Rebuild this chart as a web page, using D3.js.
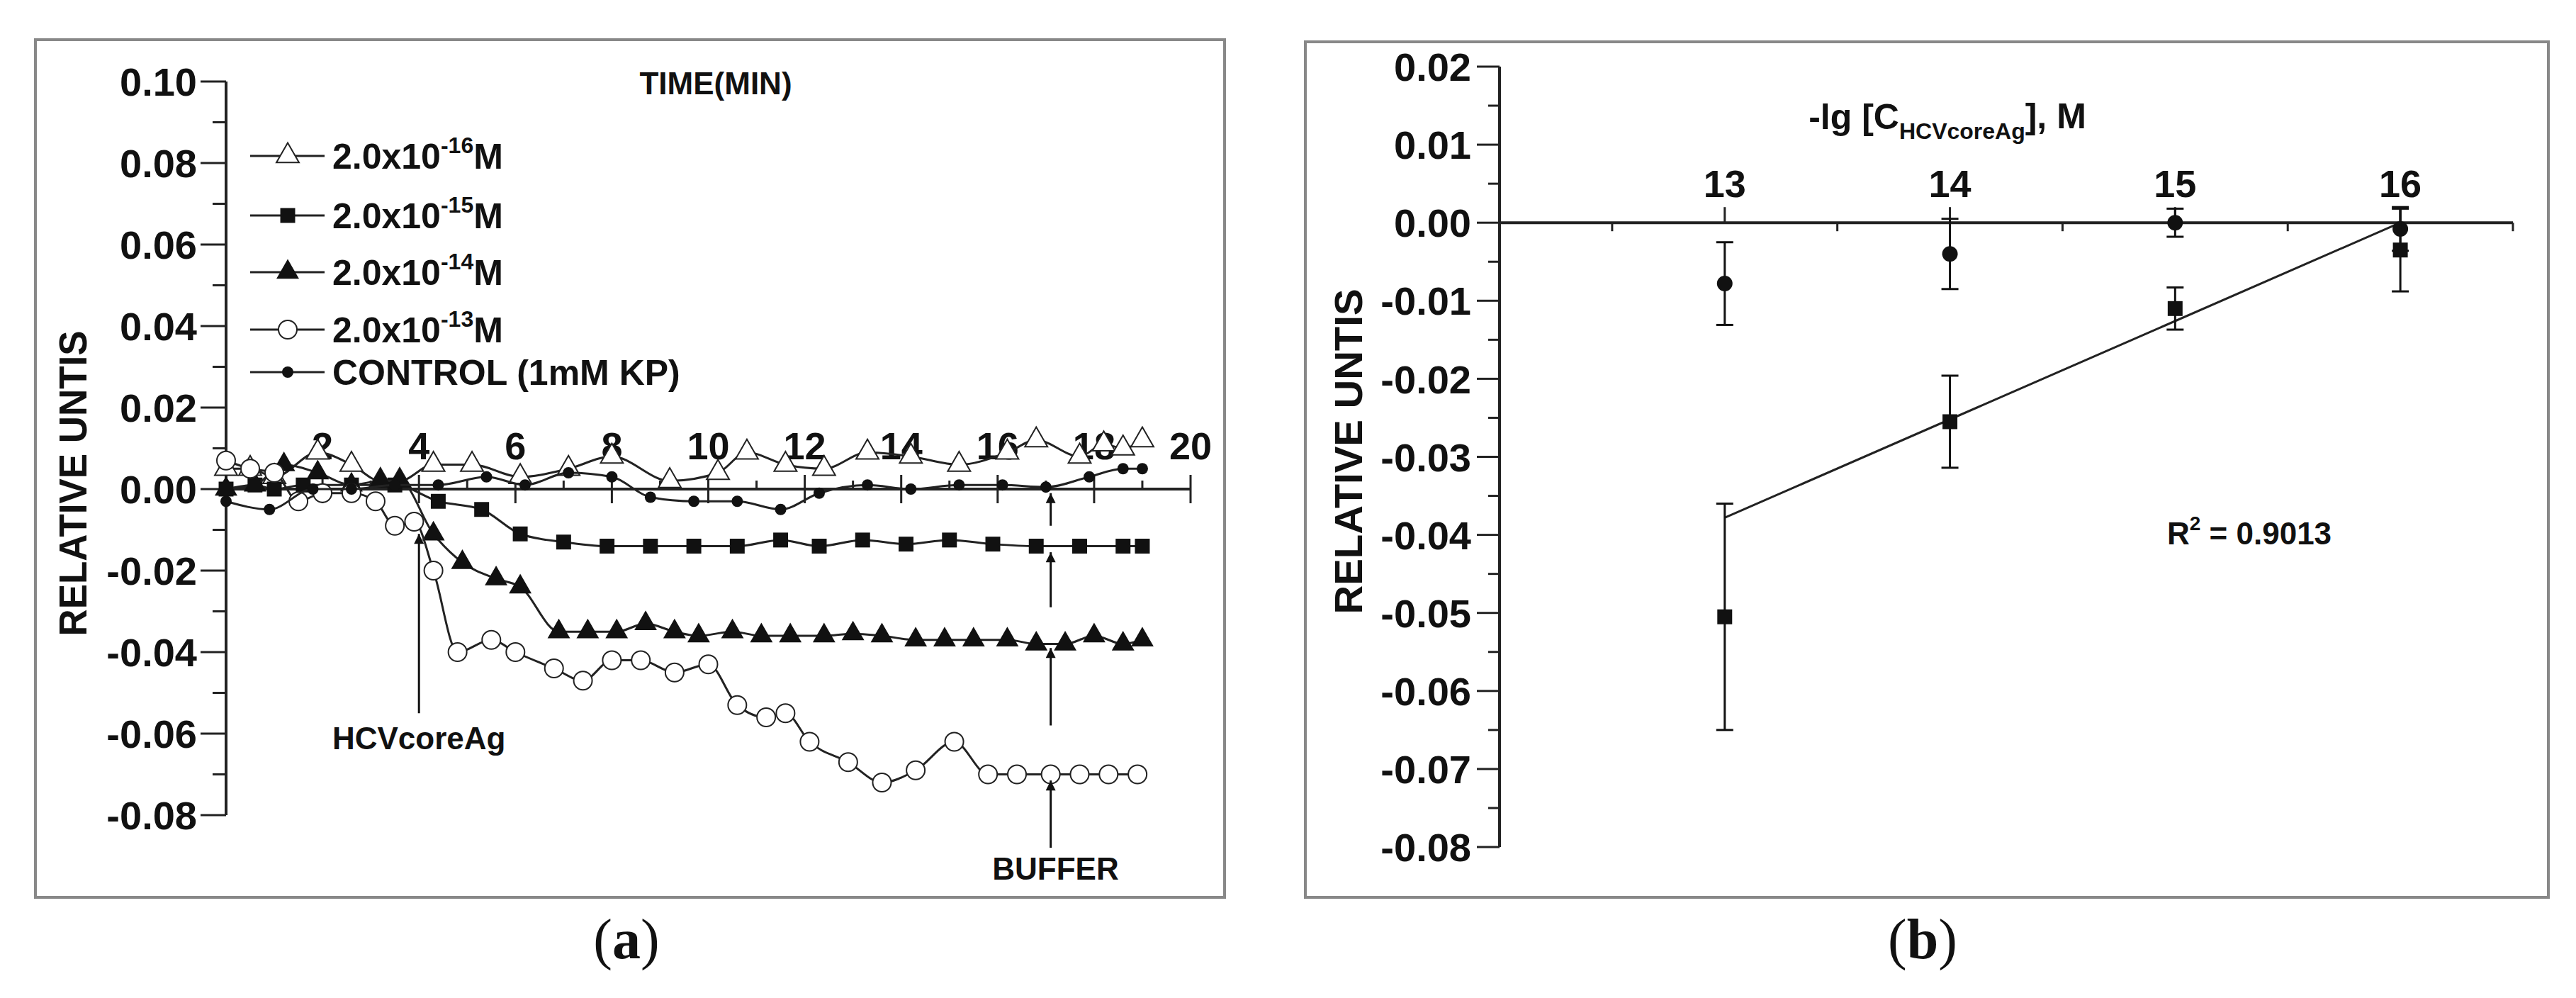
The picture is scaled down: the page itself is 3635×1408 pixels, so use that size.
<!DOCTYPE html>
<html>
<head>
<meta charset="utf-8">
<script src="https://cdn.jsdelivr.net/npm/d3@7"></script>
<style>
  body { margin: 0; background: #fff; }
  text { font-family: "Liberation Sans", Arial, sans-serif; font-weight: bold; fill: #111; }
</style>
</head>
<body>
<svg id="chart" width="3635" height="1408"></svg>
<script>
// ---------- data: panel (a), time in min vs relative units ----------
const c16 = [[0,0.005],[0.5,0.005],[1,0.003],[1.9,0.009],[2.6,0.006],[3.2,0.002],[3.6,0.002],[4.3,0.006],[5.1,0.006],[6.1,0.003],[7.1,0.005],[8,0.008],[9.2,0.002],[10.2,0.004],[10.8,0.009],[11.6,0.006],[12.4,0.005],[13.3,0.009],[14.2,0.008],[15.2,0.006],[16.2,0.009],[16.8,0.012],[17.7,0.008],[18.2,0.011],[18.6,0.010],[19,0.012]];
const c15 = [[0,0],[0.6,0.001],[1,0],[1.6,0.001],[2.6,0.001],[3.5,0.001],[4.4,-0.003],[5.3,-0.005],[6.1,-0.011],[7,-0.013],[7.9,-0.014],[8.8,-0.014],[9.7,-0.014],[10.6,-0.014],[11.5,-0.0125],[12.3,-0.014],[13.2,-0.0125],[14.1,-0.0135],[15,-0.0125],[15.9,-0.0135],[16.8,-0.014],[17.7,-0.014],[18.6,-0.014],[19,-0.014]];
const c14 = [[0,0],[0.6,0.001],[1.2,0.006],[1.9,0.004],[2.6,0.001],[3.2,0.002],[3.6,0.002],[4.3,-0.011],[4.9,-0.018],[5.6,-0.022],[6.1,-0.024],[6.9,-0.035],[7.5,-0.035],[8.1,-0.035],[8.7,-0.033],[9.3,-0.035],[9.8,-0.036],[10.5,-0.035],[11.1,-0.036],[11.7,-0.036],[12.4,-0.036],[13,-0.0355],[13.6,-0.036],[14.3,-0.037],[14.9,-0.037],[15.5,-0.037],[16.2,-0.037],[16.8,-0.038],[17.4,-0.038],[18,-0.036],[18.6,-0.038],[19,-0.037]];
const c13 = [[0,0.007],[0.5,0.005],[1,0.004],[1.5,-0.003],[2,-0.001],[2.6,-0.001],[3.1,-0.003],[3.5,-0.009],[3.9,-0.008],[4.3,-0.02],[4.8,-0.04],[5.5,-0.037],[6,-0.04],[6.8,-0.044],[7.4,-0.047],[8,-0.042],[8.6,-0.042],[9.3,-0.045],[10,-0.043],[10.6,-0.053],[11.2,-0.056],[11.6,-0.055],[12.1,-0.062],[12.9,-0.067],[13.6,-0.072],[14.3,-0.069],[15.1,-0.062],[15.8,-0.07],[16.4,-0.07],[17.1,-0.07],[17.7,-0.07],[18.3,-0.07],[18.9,-0.07]];
const control = [[0,-0.003],[0.9,-0.005],[1.8,0],[2.6,0],[3.5,0.001],[4.4,0.001],[5.4,0.003],[6.2,0.001],[7.1,0.004],[8,0.003],[8.8,-0.002],[9.7,-0.003],[10.6,-0.003],[11.5,-0.005],[12.3,-0.001],[13.3,0.001],[14.2,0],[15.2,0.001],[16.1,0.001],[17,0.0005],[17.9,0.003],[18.6,0.005],[19,0.005]];
const legendLabels = [["2.0x10","-16","M"],["2.0x10","-15","M"],["2.0x10","-14","M"],["2.0x10","-13","M"],["CONTROL (1mM KP)","",""]];
const yTicksA = [0.10,0.08,0.06,0.04,0.02,0.00,-0.02,-0.04,-0.06,-0.08];
const xTicksA = [2,4,6,8,10,12,14,16,18,20];
// arrows: [x, tail y, tip y]
const hcvArrow = [4, -0.055, -0.011];
const bufferArrows = [[17.1,-0.009,-0.001],[17.1,-0.029,-0.0155],[17.1,-0.058,-0.039],[17.1,-0.088,-0.0715]];

// ---------- data: panel (b) ----------
const concB = [13,14,15,16];
const circleB = [-0.0078,-0.004,0.0,-0.0008];
const circleErr = [0.0053,0.0045,0.0018,0.0028];
const squareB = [-0.0505,-0.0255,-0.011,-0.0035];
const squareErr = [0.0145,0.0059,0.0027,0.0053];
const fitX = [13,16];
const fitY = [-0.0378,0.0];
const yTicksB = [0.02,0.01,0.00,-0.01,-0.02,-0.03,-0.04,-0.05,-0.06,-0.07,-0.08];
const xTicksB = [13,14,15,16];

const svg = d3.select("#chart");

// frames
svg.append("rect").attr("x",50).attr("y",56).attr("width",1678).attr("height",1210)
  .attr("fill","none").attr("stroke","#888").attr("stroke-width",4);
svg.append("rect").attr("x",1842).attr("y",59).attr("width",1754).attr("height",1207)
  .attr("fill","none").attr("stroke","#888").attr("stroke-width",4);

// ================= panel (a) =================
const xA = d3.scaleLinear().domain([0,20]).range([319,1680]);
const yA = d3.scaleLinear().domain([-0.08,0.10]).range([1150,115]);
const gA = svg.append("g");

// y axis
gA.append("line").attr("x1",319).attr("x2",319).attr("y1",yA(0.10)).attr("y2",yA(-0.08))
  .attr("stroke","#222").attr("stroke-width",4);
d3.range(-0.08,0.1001,0.01).forEach((v,i) => {
  const major = i % 2 === 0;
  gA.append("line").attr("x1",319).attr("x2",major ? 283 : 300)
    .attr("y1",yA(v)).attr("y2",yA(v)).attr("stroke","#222").attr("stroke-width",3);
});
yTicksA.forEach(v => {
  gA.append("text").attr("x",278).attr("y",yA(v)).attr("dy","0.36em")
    .attr("text-anchor","end").style("font-size","56px").text(v.toFixed(2));
});

// x axis along zero
gA.append("line").attr("x1",xA(0)).attr("x2",xA(20)).attr("y1",yA(0)).attr("y2",yA(0))
  .attr("stroke","#222").attr("stroke-width",4);
d3.range(1,21).forEach(v => {
  const major = v % 2 === 0;
  gA.append("line").attr("x1",xA(v)).attr("x2",xA(v))
    .attr("y1",yA(0) - (major ? 20 : 12)).attr("y2",yA(0) + (major ? 20 : 0))
    .attr("stroke","#222").attr("stroke-width",3);
});
xTicksA.forEach(v => {
  gA.append("text").attr("x",xA(v)).attr("y",648).attr("text-anchor","middle")
    .style("font-size","54px").text(v);
});
gA.append("text").attr("x",1010).attr("y",133).attr("text-anchor","middle")
  .style("font-size","44px").text("TIME(MIN)");
gA.append("text").attr("transform","translate(122,682) rotate(-90)")
  .attr("text-anchor","middle").style("font-size","56px")
  .attr("textLength",431).attr("lengthAdjust","spacingAndGlyphs").text("RELATIVE UNTIS");

const lineA = d3.line().x(d => xA(d[0])).y(d => yA(d[1])).curve(d3.curveMonotoneX);

const tri = d3.symbol().type(d3.symbolTriangle).size(440);
const sq = d3.symbol().type(d3.symbolSquare).size(440);

function marker(g, kind, x, y) {
  if (kind === "otri") g.append("path").attr("d",tri()).attr("transform",`translate(${x},${y})`).attr("fill","#fff").attr("stroke","#222").attr("stroke-width",2);
  if (kind === "tri") g.append("path").attr("d",tri()).attr("transform",`translate(${x},${y})`).attr("fill","#111");
  if (kind === "sq") g.append("path").attr("d",sq()).attr("transform",`translate(${x},${y})`).attr("fill","#111");
  if (kind === "ocirc") g.append("circle").attr("cx",x).attr("cy",y).attr("r",13).attr("fill","#fff").attr("stroke","#222").attr("stroke-width",2);
  if (kind === "dot") g.append("circle").attr("cx",x).attr("cy",y).attr("r",8).attr("fill","#111");
}

const seriesA = [[c16,"otri"],[c15,"sq"],[c14,"tri"],[c13,"ocirc"],[control,"dot"]];
seriesA.forEach(([data, kind]) => {
  gA.append("path").datum(data).attr("d",lineA).attr("fill","none")
    .attr("stroke","#222").attr("stroke-width",3);
  data.forEach(d => marker(gA, kind, xA(d[0]), yA(d[1])));
});

// legend
const legendY = [220,304,384,465,525];
legendLabels.forEach((lab,i) => {
  gA.append("line").attr("x1",353).attr("x2",458).attr("y1",legendY[i]).attr("y2",legendY[i])
    .attr("stroke","#222").attr("stroke-width",3);
  marker(gA, seriesA[i][1], 406, legendY[i]);
  const t = gA.append("text").attr("x",469).attr("y",legendY[i]).attr("dy","0.36em").style("font-size","50px");
  t.append("tspan").text(lab[0]);
  if (lab[1]) {
    t.append("tspan").attr("dy","-0.7em").style("font-size","32px").text(lab[1]);
    t.append("tspan").attr("dy","0.45em").text(lab[2]);
  }
});

// arrows
svg.append("defs").append("marker").attr("id","ah").attr("viewBox","0 0 10 10")
  .attr("refX",10).attr("refY",5)
  .attr("markerUnits","userSpaceOnUse").attr("orient","auto")
  .attr("markerWidth",34).attr("markerHeight",14)
  .append("path").attr("d","M0,0 L10,5 L0,10 Z").attr("fill","#111");
[hcvArrow].concat(bufferArrows).forEach(a => {
  gA.append("line").attr("x1",xA(a[0])).attr("x2",xA(a[0])).attr("y1",yA(a[1])).attr("y2",yA(a[2]))
    .attr("stroke","#111").attr("stroke-width",3).attr("marker-end","url(#ah)");
});
gA.append("text").attr("x",xA(4)).attr("y",yA(-0.061)).attr("dy","0.36em").attr("text-anchor","middle")
  .style("font-size","44px").text("HCVcoreAg");
gA.append("text").attr("x",xA(17.2)).attr("y",yA(-0.093)).attr("dy","0.36em").attr("text-anchor","middle")
  .style("font-size","44px").text("BUFFER");

// ================= panel (b) =================
const xB = d3.scaleLinear().domain([12,16.5]).range([2116,3546]);
const yB = d3.scaleLinear().domain([-0.08,0.02]).range([1195,94]);
const gB = svg.append("g");

gB.append("line").attr("x1",2116).attr("x2",2116).attr("y1",yB(0.02)).attr("y2",yB(-0.08))
  .attr("stroke","#222").attr("stroke-width",4);
d3.range(-0.08,0.0201,0.005).forEach((v,i) => {
  const major = i % 2 === 0;
  gB.append("line").attr("x1",2116).attr("x2",major ? 2084 : 2100)
    .attr("y1",yB(v)).attr("y2",yB(v)).attr("stroke","#222").attr("stroke-width",3);
});
yTicksB.forEach(v => {
  gB.append("text").attr("x",2076).attr("y",yB(v)).attr("dy","0.36em")
    .attr("text-anchor","end").style("font-size","56px").text(v.toFixed(2));
});
gB.append("line").attr("x1",xB(12)).attr("x2",xB(16.5)).attr("y1",yB(0)).attr("y2",yB(0))
  .attr("stroke","#222").attr("stroke-width",4);
d3.range(12.5,16.51,0.5).forEach(v => {
  const major = Number.isInteger(v);
  gB.append("line").attr("x1",xB(v)).attr("x2",xB(v))
    .attr("y1",yB(0)).attr("y2",yB(0) + (major ? -22 : 12))
    .attr("stroke","#222").attr("stroke-width",3);
});
xTicksB.forEach(v => {
  gB.append("text").attr("x",xB(v)).attr("y",278).attr("text-anchor","middle")
    .style("font-size","54px").text(v);
});
const tB = gB.append("text").attr("x",2748).attr("y",182).attr("text-anchor","middle").style("font-size","50px");
tB.append("tspan").text("-lg [C");
tB.append("tspan").attr("dy","0.45em").style("font-size","32px").text("HCVcoreAg");
tB.append("tspan").attr("dy","-0.3em").text("], M");
gB.append("text").attr("transform","translate(1922,637) rotate(-90)")
  .attr("text-anchor","middle").style("font-size","56px")
  .attr("textLength",459).attr("lengthAdjust","spacingAndGlyphs").text("RELATIVE UNTIS");
const rT = gB.append("text").attr("x",3058).attr("y",768).style("font-size","44px");
rT.append("tspan").text("R");
rT.append("tspan").attr("dy","-0.7em").style("font-size","28px").text("2");
rT.append("tspan").attr("dy","0.45em").text(" = 0.9013");

// fit line
gB.append("line").attr("x1",xB(fitX[0])).attr("x2",xB(fitX[1])).attr("y1",yB(fitY[0])).attr("y2",yB(fitY[1]))
  .attr("stroke","#222").attr("stroke-width",3);

function errBar(x, v, e) {
  gB.append("line").attr("x1",xB(x)).attr("x2",xB(x)).attr("y1",yB(v - e)).attr("y2",yB(v + e))
    .attr("stroke","#111").attr("stroke-width",3);
  [v - e, v + e].forEach(w => gB.append("line").attr("x1",xB(x) - 12).attr("x2",xB(x) + 12)
    .attr("y1",yB(w)).attr("y2",yB(w)).attr("stroke","#111").attr("stroke-width",3));
}
concB.forEach((c,i) => {
  errBar(c, circleB[i], circleErr[i]);
  gB.append("circle").attr("cx",xB(c)).attr("cy",yB(circleB[i])).attr("r",11).attr("fill","#111");
  errBar(c, squareB[i], squareErr[i]);
  gB.append("path").attr("d",sq()).attr("transform",`translate(${xB(c)},${yB(squareB[i])})`).attr("fill","#111");
});

// captions
[["a",884],["b",2713]].forEach(([l,x]) => {
  const t = svg.append("text").attr("x",x).attr("y",1352).attr("text-anchor","middle")
    .style("font-family","'Liberation Serif', serif").style("font-weight","normal").style("font-size","80px");
  t.append("tspan").text("(");
  t.append("tspan").style("font-weight","bold").text(l);
  t.append("tspan").text(")");
});
</script>
</body>
</html>
